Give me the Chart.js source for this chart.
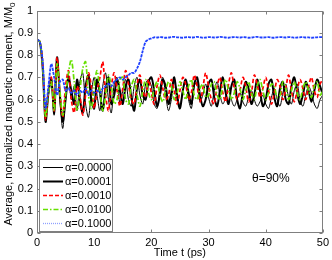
<!DOCTYPE html>
<html>
<head>
<meta charset="utf-8">
<script src="https://cdn.jsdelivr.net/npm/chart.js@4.4.1/dist/chart.umd.min.js"></script>
<style>
html,body{margin:0;padding:0;background:#fff;}
#wrap{width:332px;height:260px;}
</style>
</head>
<body>
<div id="wrap"><canvas id="c" width="332" height="260"></canvas></div>
<script>
const time = [
 0,0.5,1,1.5,2,2.5,3,3.5,4,4.5,
 5,5.5,6,6.5,7,7.5,8,8.5,9,9.5,
 10,10.5,11,11.5,12,12.5,13,13.5,14,14.5,
 15,15.5,16,16.5,17,17.5,18,18.5,19,19.5,
 20,20.5,21,21.5,22,22.5,23,23.5,24,24.5,
 25,25.5,26,26.5,27,27.5,28,28.5,29,29.5,
 30,30.5,31,31.5,32,32.5,33,33.5,34,34.5,
 35,35.5,36,36.5,37,37.5,38,38.5,39,39.5,
 40,40.5,41,41.5,42,42.5,43,43.5,44,44.5,
 45,45.5,46,46.5,47,47.5,48,48.5,49,49.5,
 50];

const alpha0000 = [
 0.87,0.86,0.75,0.52,0.62,0.70,0.53,0.78,0.60,0.47,
 0.62,0.71,0.60,0.66,0.55,0.68,0.72,0.58,0.52,0.63,
 0.70,0.62,0.55,0.66,0.72,0.60,0.54,0.67,0.70,0.58,
 0.64,0.69,0.60,0.57,0.66,0.70,0.62,0.58,0.67,0.69,
 0.66,0.58,0.56,0.65,0.70,0.62,0.55,0.60,0.68,0.63,
 0.57,0.64,0.69,0.60,0.56,0.66,0.68,0.59,0.62,0.67,
 0.61,0.57,0.64,0.68,0.62,0.58,0.61,0.66,0.60,0.57,
 0.60,0.63,0.59,0.57,0.61,0.64,0.60,0.57,0.59,0.62,
 0.58,0.56,0.61,0.65,0.60,0.57,0.63,0.67,0.61,0.58,
 0.64,0.67,0.60,0.57,0.62,0.66,0.63,0.58,0.56,0.60,
 0.62];

const alpha0001 = [
 0.87,0.86,0.74,0.50,0.63,0.69,0.54,0.79,0.62,0.50,
 0.60,0.70,0.64,0.58,0.69,0.60,0.54,0.66,0.71,0.60,
 0.56,0.69,0.63,0.55,0.65,0.70,0.58,0.62,0.69,0.64,
 0.58,0.66,0.69,0.61,0.55,0.65,0.69,0.62,0.60,0.68,
 0.70,0.64,0.57,0.62,0.69,0.66,0.58,0.63,0.70,0.61,
 0.56,0.64,0.69,0.63,0.58,0.67,0.70,0.62,0.57,0.60,
 0.67,0.69,0.61,0.57,0.64,0.70,0.63,0.58,0.66,0.69,
 0.60,0.56,0.63,0.68,0.65,0.58,0.62,0.69,0.64,0.57,
 0.60,0.67,0.69,0.61,0.57,0.65,0.68,0.60,0.58,0.66,
 0.70,0.63,0.58,0.62,0.68,0.64,0.59,0.64,0.69,0.66,
 0.62];

const alpha0010 = [
 0.87,0.86,0.76,0.51,0.64,0.70,0.55,0.79,0.63,0.52,
 0.66,0.73,0.60,0.54,0.66,0.62,0.53,0.62,0.72,0.66,
 0.56,0.64,0.70,0.77,0.62,0.55,0.66,0.72,0.64,0.57,
 0.65,0.73,0.67,0.60,0.58,0.67,0.71,0.64,0.61,0.69,
 0.63,0.58,0.66,0.71,0.65,0.60,0.62,0.69,0.64,0.58,
 0.64,0.70,0.67,0.60,0.63,0.71,0.66,0.59,0.65,0.72,
 0.66,0.60,0.58,0.66,0.70,0.63,0.59,0.67,0.72,0.65,
 0.60,0.64,0.70,0.66,0.59,0.63,0.71,0.67,0.61,0.65,
 0.70,0.64,0.58,0.63,0.69,0.66,0.60,0.65,0.71,0.64,
 0.59,0.64,0.69,0.65,0.60,0.66,0.70,0.64,0.61,0.67,
 0.69];

const alpha0100 = [
 0.87,0.86,0.75,0.52,0.63,0.68,0.55,0.76,0.64,0.53,
 0.62,0.72,0.78,0.68,0.55,0.64,0.74,0.77,0.62,0.56,
 0.66,0.73,0.64,0.55,0.62,0.71,0.66,0.58,0.60,0.69,
 0.70,0.60,0.58,0.66,0.69,0.62,0.57,0.64,0.69,0.63,
 0.60,0.65,0.68,0.62,0.59,0.64,0.68,0.66,0.60,0.63,
 0.68,0.64,0.60,0.66,0.69,0.62,0.60,0.65,0.67,0.61,
 0.62,0.67,0.68,0.62,0.60,0.66,0.69,0.64,0.60,0.63,
 0.68,0.65,0.60,0.64,0.68,0.63,0.60,0.66,0.69,0.64,
 0.60,0.63,0.67,0.66,0.61,0.62,0.68,0.65,0.60,0.64,
 0.68,0.63,0.60,0.65,0.68,0.64,0.61,0.66,0.68,0.62,
 0.64];

const alpha1000 = [
 0.87,0.86,0.77,0.56,0.66,0.76,0.70,0.62,0.68,0.69,
 0.64,0.65,0.63,0.64,0.62,0.64,0.63,0.65,0.62,0.64,
 0.63,0.64,0.63,0.65,0.66,0.67,0.66,0.68,0.69,0.70,
 0.69,0.70,0.71,0.72,0.72,0.74,0.77,0.82,0.86,0.87,
 0.875,0.880,0.879,0.881,0.880,0.878,0.879,0.881,0.882,0.880,
 0.879,0.878,0.880,0.881,0.879,0.880,0.882,0.880,0.878,0.879,
 0.881,0.880,0.879,0.880,0.882,0.881,0.879,0.878,0.880,0.881,
 0.880,0.879,0.881,0.880,0.878,0.879,0.881,0.882,0.880,0.879,
 0.880,0.881,0.879,0.878,0.880,0.881,0.880,0.879,0.881,0.880,
 0.878,0.879,0.880,0.881,0.879,0.880,0.878,0.879,0.880,0.881,
 0.880];

const seriesLabels = ['\u03b1=0.0000','\u03b1=0.0001','\u03b1=0.0010','\u03b1=0.0100','\u03b1=0.1000'];
const xTicks = [0,10,20,30,40,50];
const yTicks = [0,0.1,0.2,0.3,0.4,0.5,0.6,0.7,0.8,0.9,1];
const yTickLabels = ['0','0.1','0.2','0.3','0.4','0.5','0.6','0.7','0.8','0.9','1'];
const xTitle = 'Time t (ps)';
const yTitle = 'Average, normalized magnetic moment, M/M';
const yTitleSub = '0';
const annotation = '\u03b8=90%';

const FONT = '"Liberation Sans", Arial, sans-serif';
const FRAME = '#7f7f7f';

function pts(arr){ return arr.map((v,i)=>({x:time[i], y:v})); }

const styles = [
  {color:'#000000', width:1, dash:[], order:4},
  {color:'#000000', width:2, dash:[], order:3},
  {color:'#ff0000', width:1.7, dash:[4,2.5], order:2},
  {color:'#66e000', width:1.7, dash:[5,2,1.5,2], order:1},
  {color:'#1f40ff', width:1.8, dash:[3,1], order:0}
];
const legendStyles = [
  {color:'#000000', width:1, dash:[]},
  {color:'#000000', width:2, dash:[]},
  {color:'#ff0000', width:1.3, dash:[4,2]},
  {color:'#66e000', width:1.3, dash:[5,2,1.5,2]},
  {color:'#8fa0ff', width:1.3, dash:[1,1]}
];
const allData = [alpha0000, alpha0001, alpha0010, alpha0100, alpha1000];

const datasets = allData.map((d,i)=>({
  label: seriesLabels[i],
  data: pts(d),
  borderColor: styles[i].color,
  borderWidth: styles[i].width,
  borderDash: styles[i].dash,
  pointRadius: 0,
  fill: false,
  tension: 0.3,
  order: styles[i].order
}));

const decor = {
  id: 'decor',
  afterDraw(chart){
    const ctx = chart.ctx;
    const a = chart.chartArea;
    const xs = chart.scales.x, ys = chart.scales.y;
    ctx.save();
    ctx.strokeStyle = FRAME;
    ctx.lineWidth = 1;
    ctx.setLineDash([]);
    ctx.strokeRect(Math.round(a.left)+0.5, Math.round(a.top)+0.5, Math.round(a.right-a.left)-1, Math.round(a.bottom-a.top)-1);
    const L = Math.round(a.left)+0.5, R = Math.round(a.right)-0.5, T = Math.round(a.top)+0.5, B = Math.round(a.bottom)-0.5;
    ctx.beginPath();
    xTicks.forEach(v=>{
      const px = Math.round(xs.getPixelForValue(v))+0.5;
      ctx.moveTo(px,B); ctx.lineTo(px,B-3);
      ctx.moveTo(px,T); ctx.lineTo(px,T+3);
    });
    yTicks.forEach(v=>{
      const py = Math.round(ys.getPixelForValue(v))+0.5;
      ctx.moveTo(L,py); ctx.lineTo(L+3,py);
      ctx.moveTo(R,py); ctx.lineTo(R-3,py);
    });
    ctx.stroke();

    // legend box
    const bx = 39.5, by = 159.5, bw = 73, bh = 72;
    ctx.fillStyle = '#ffffff';
    ctx.fillRect(bx, by, bw, bh);
    ctx.strokeStyle = FRAME;
    ctx.lineWidth = 1;
    ctx.strokeRect(bx, by, bw, bh);
    ctx.font = '11px ' + FONT;
    ctx.textBaseline = 'middle';
    ctx.textAlign = 'left';
    seriesLabels.forEach((lab,i)=>{
      const y = 167 + i*14;
      const s = legendStyles[i];
      ctx.beginPath();
      ctx.strokeStyle = s.color;
      ctx.lineWidth = s.width;
      ctx.setLineDash(s.dash);
      ctx.moveTo(43, y+0.5); ctx.lineTo(63, y+0.5);
      ctx.stroke();
      ctx.setLineDash([]);
      ctx.fillStyle = '#000';
      ctx.fillText(lab, 65, y+0.5);
    });

    // annotation
    ctx.font = '12px ' + FONT;
    ctx.fillStyle = '#000';
    ctx.fillText(annotation, 252, 179);

    // x title
    ctx.font = '11px ' + FONT;
    ctx.textAlign = 'center';
    ctx.fillText(xTitle, (a.left+a.right)/2, 253);

    // y title with subscript
    ctx.save();
    ctx.translate(9, 114);
    ctx.rotate(-Math.PI/2);
    ctx.font = '11px ' + FONT;
    const w1 = ctx.measureText(yTitle).width;
    ctx.font = '8px ' + FONT;
    const w2 = ctx.measureText(yTitleSub).width;
    const total = w1 + w2;
    ctx.textAlign = 'left';
    ctx.font = '11px ' + FONT;
    ctx.fillText(yTitle, -total/2, 0);
    ctx.font = '8px ' + FONT;
    ctx.fillText(yTitleSub, -total/2 + w1, 3.5);
    ctx.restore();

    ctx.restore();
  }
};

new Chart(document.getElementById('c'), {
  type: 'line',
  data: { datasets },
  options: {
    responsive: false,
    animation: false,
    devicePixelRatio: 1,
    layout: { padding: { top: 6, right: 9, left: 0, bottom: 0 } },
    plugins: { legend: { display: false }, tooltip: { enabled: false }, title: { display: false } },
    scales: {
      x: {
        type: 'linear', min: 0, max: 50,
        grid: { display: false, drawTicks: false },
        border: { display: false },
        afterBuildTicks(s){ s.ticks = xTicks.map(v=>({value:v})); },
        afterFit(s){ s.height = 27; },
        ticks: { color: '#000', font: { size: 11, family: FONT }, padding: 3, maxRotation: 0, autoSkip: false,
                 callback: (v)=> String(v) }
      },
      y: {
        type: 'linear', min: 0, max: 1,
        grid: { display: false, drawTicks: false },
        border: { display: false },
        afterBuildTicks(s){ s.ticks = yTicks.map(v=>({value:v})); },
        afterFit(s){ s.width = 37; },
        ticks: { color: '#000', font: { size: 11, family: FONT }, padding: 4, autoSkip: false,
                 callback: (v)=> { const i = yTicks.findIndex(t=>Math.abs(t-v)<1e-9); return i>=0 ? yTickLabels[i] : ''; } }
      }
    }
  },
  plugins: [decor]
});
</script>
</body>
</html>
